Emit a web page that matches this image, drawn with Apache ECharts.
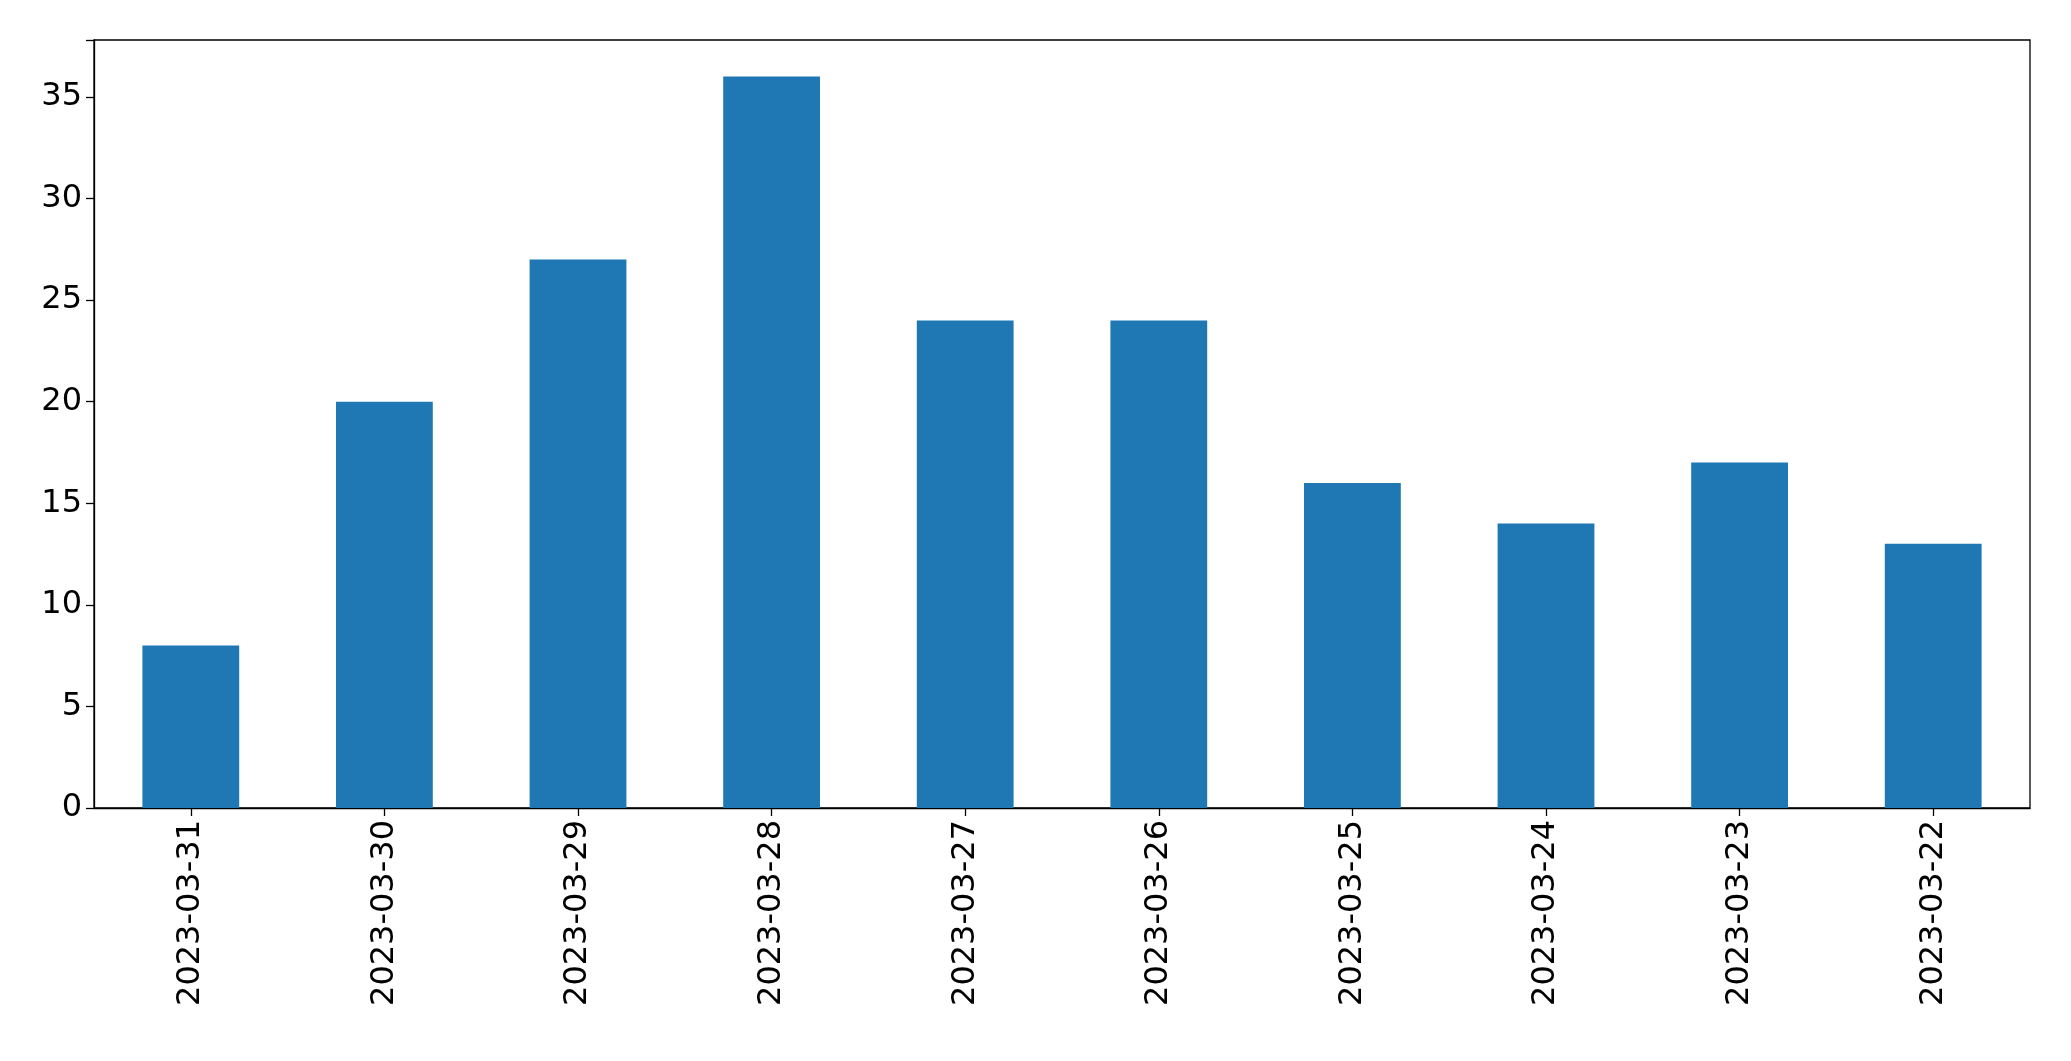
<!DOCTYPE html>
<html><head><meta charset="utf-8">
<script src="https://cdn.jsdelivr.net/npm/echarts@6/dist/echarts.min.js"></script>
<style>html,body{margin:0;padding:0;background:#fff}#c{width:2071px;height:1061px}</style>
</head><body><div id="c"></div>
<script>
const categories = ["2023-03-31","2023-03-30","2023-03-29","2023-03-28","2023-03-27","2023-03-26","2023-03-25","2023-03-24","2023-03-23","2023-03-22"];
const values = [8,20,27,36,24,24,16,14,17,13];
const chart = echarts.init(document.getElementById('c'));
const axisLine = {show:true,lineStyle:{color:'#000',width:1.3}};
chart.setOption({
  animation:false,
  grid:{left:94,right:41,top:40,bottom:253,show:true,borderColor:'#000',borderWidth:1.3},
  xAxis:{type:'category',data:categories,axisLine,
    axisTick:{show:true,alignWithLabel:true,length:8,lineStyle:{color:'#000',width:1.3}},
    axisLabel:{rotate:90,fontSize:32,color:'#000',fontFamily:'DejaVu Sans',margin:12}},
  yAxis:{type:'value',min:0,max:37.8,interval:5,axisLine,
    axisTick:{show:true,length:8,lineStyle:{color:'#000',width:1.3}},
    splitLine:{show:false},
    axisLabel:{fontSize:32,color:'#000',fontFamily:'DejaVu Sans',margin:12,
      formatter:v=>Number.isInteger(v)?String(v):''}},
  series:[{type:'bar',data:values,barCategoryGap:'50%',itemStyle:{color:'#1f77b4'}}]
});
</script></body></html>
